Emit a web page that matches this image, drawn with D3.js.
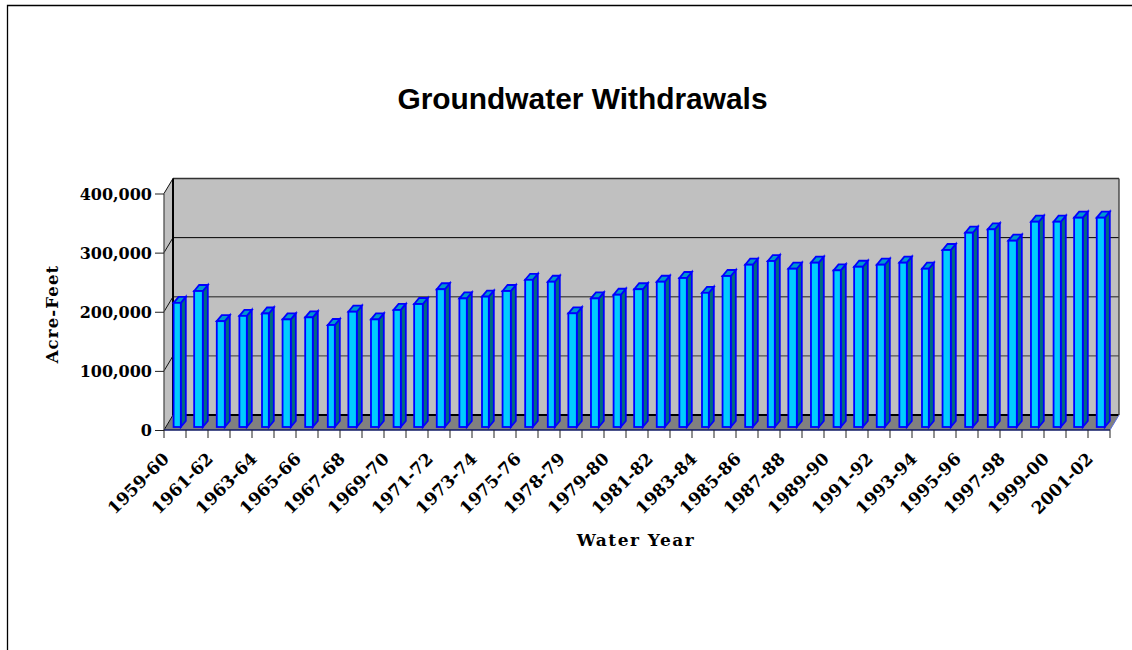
<!DOCTYPE html>
<html><head><meta charset="utf-8">
<script src="https://cdn.jsdelivr.net/npm/d3@7"></script>
<style>
html,body{margin:0;padding:0;background:#fff}
svg{display:block}
text{fill:#000}
</style></head><body>
<svg id="c" width="1132" height="650"></svg>
<script>
const chartTitle = "Groundwater Withdrawals";
const yTitle = "Acre-Feet";
const xTitle = "Water Year";
const tickLabels = ["1959-60","1961-62","1963-64","1965-66","1967-68","1969-70","1971-72","1973-74","1975-76","1978-79","1979-80","1981-82","1983-84","1985-86","1987-88","1989-90","1991-92","1993-94","1995-96","1997-98","1999-00","2001-02"];
const yTicks = [0,100000,200000,300000,400000];
const withdrawals = [210000,230000,179000,188000,192000,182000,185500,172500,195000,182000,198000,208000,233000,217500,220500,230000,249000,245700,192300,217500,223700,233000,245700,252000,227000,255400,274500,280700,267700,277900,265000,271000,274500,277900,267700,299400,328600,334400,315100,347200,347200,354000,354000];

const svg = d3.select("#c");
const L=164,R=1110,T=193.5,B=430,DX=9,DY=15;
const barDX=5,barDY=6,barLift=3;
const xOuter = d3.scaleBand().domain(d3.range(withdrawals.length)).range([L,R]);
const y = d3.scaleLinear().domain([0,400000]).range([B,T]);

// frame
svg.append("path").attr("d","M7.5,650V5.5H1132").attr("fill","none").attr("stroke","#000").attr("stroke-width",1.3);

// walls
const wall = svg.append("g");
wall.append("path").attr("d",`M${L},${T}L${L+DX},${T-DY}V${B-DY}L${L},${B}Z`).attr("fill","#c0c0c0");
wall.append("path").attr("d",`M${L+DX},${T-DY}H${R+DX}V${B-DY}H${L+DX}Z`).attr("fill","#c0c0c0");
wall.append("path").attr("d",`M${L},${B}L${L+DX},${B-DY}H${R+DX}L${R},${B}Z`).attr("fill","#808080");

// gridlines
const gridStyle = {0:["#000",1.8],100000:["#555",1.4],200000:["#555",1.6],300000:["#000",1],400000:["#333",1.6]};
yTicks.forEach(v=>{
  const yy=y(v);
  wall.append("line").attr("x1",L+DX).attr("x2",R+DX).attr("y1",yy-DY).attr("y2",yy-DY)
    .attr("stroke",gridStyle[v][0]).attr("stroke-width",gridStyle[v][1]);
  wall.append("line").attr("x1",L).attr("x2",L+DX).attr("y1",yy).attr("y2",yy-DY)
    .attr("stroke","#111").attr("stroke-width",1);
});
wall.append("line").attr("x1",L+DX).attr("x2",L+DX).attr("y1",T-DY).attr("y2",B-DY).attr("stroke","#000").attr("stroke-width",2);
wall.append("line").attr("x1",R+DX).attr("x2",R+DX).attr("y1",T-DY).attr("y2",B-DY).attr("stroke","#444").attr("stroke-width",1.4);
wall.append("line").attr("x1",R).attr("x2",R+DX).attr("y1",B).attr("y2",B-DY).attr("stroke","#5a6fe0").attr("stroke-width",1);

// bars: left edges sit on the coarse raster seen in the reference
const g=2.056, x0=172.7;
const snap=v=>x0+Math.round((v-x0)/g-0.25)*g;
const bars = svg.append("g").attr("stroke","#0000ff").attr("stroke-width",1.8).attr("stroke-linejoin","miter");
withdrawals.forEach((v,i)=>{
  const base=xOuter(i)-L;
  const left=snap(x0+base)+0.9, right=x0+base+8.1;
  const top=y(v)-barLift, bot=y(0)-barLift;
  bars.append("path").attr("d",`M${right},${bot}L${right+barDX},${bot-barDY}V${top-barDY}L${right},${top}Z`).attr("fill","#006b80");
  bars.append("path").attr("d",`M${left},${top}L${left+barDX},${top-barDY}H${right+barDX}L${right},${top}Z`).attr("fill","#0099cc");
  bars.append("rect").attr("x",left).attr("y",top).attr("width",right-left).attr("height",bot-top).attr("fill","#00ccff");
});

// axes
const font="'DejaVu Serif',serif";
const yAxis = svg.append("g").attr("transform",`translate(${L},0)`)
  .call(d3.axisLeft(y).tickValues(yTicks).tickFormat(d3.format(",")).tickSize(9).tickPadding(3));
yAxis.select(".domain").attr("d",`M0,${T}V${B}`).attr("stroke","#444").attr("stroke-width",1.2);
yAxis.selectAll(".tick line").attr("stroke","#222");
yAxis.selectAll("text").attr("font-family",font).attr("font-weight","bold").attr("font-size",16).attr("dy","0.36em");

// x axis line + ticks at every category boundary
svg.append("line").attr("x1",L).attr("x2",R).attr("y1",B).attr("y2",B).attr("stroke","#111a66").attr("stroke-width",1.4);
svg.append("g").selectAll("line").data(d3.range(withdrawals.length+1)).join("line")
  .attr("x1",d=>L+d*xOuter.step()).attr("x2",d=>L+d*xOuter.step()).attr("y1",B).attr("y2",B+8)
  .attr("stroke","#222").attr("stroke-width",1);

const xAxis = svg.append("g").attr("transform",`translate(0,${B})`)
  .call(d3.axisBottom(xOuter).tickValues(d3.range(0,withdrawals.length,2)).tickFormat(i=>tickLabels[i/2]).tickSize(0));
xAxis.select(".domain").remove();
xAxis.selectAll("text").attr("font-family",font).attr("font-weight","bold").attr("font-size",17)
  .attr("text-anchor","end").attr("dy",0).attr("y",0)
  .attr("transform","translate(-5,30) rotate(-45)");

// titles
svg.append("text").attr("x",582.5).attr("y",109).attr("text-anchor","middle")
  .attr("font-family","'Liberation Sans',Arial,sans-serif").attr("font-weight","bold").attr("font-size",29.9).text(chartTitle);
svg.append("text").attr("x",636).attr("y",546).attr("text-anchor","middle")
  .attr("font-family",font).attr("font-weight","bold").attr("font-size",17).attr("letter-spacing",1.5).text(xTitle);
svg.append("text").attr("transform","translate(58,314) rotate(-90)").attr("text-anchor","middle")
  .attr("font-family",font).attr("font-weight","bold").attr("font-size",16.6).attr("letter-spacing",1.1).text(yTitle);
</script>
</body></html>
